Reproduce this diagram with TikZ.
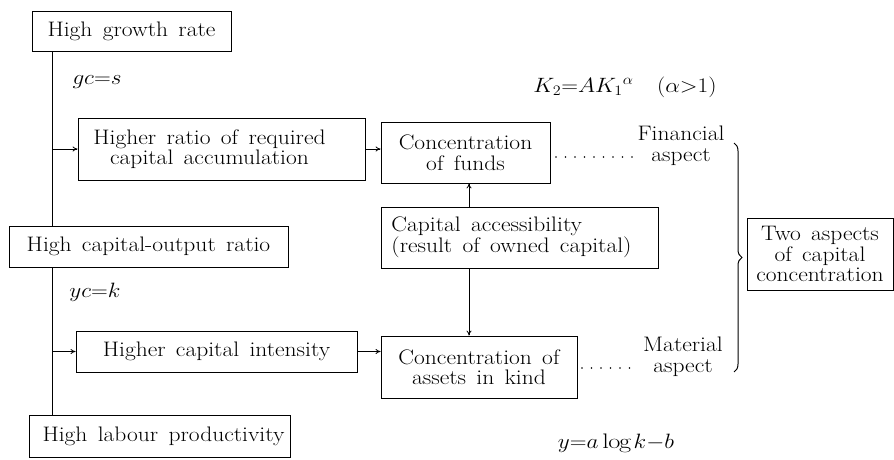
\documentclass[tikz,border=0pt]{standalone}
\usepackage{fontspec}
\usepackage{graphicx}
\setmainfont{Latin Modern Roman}[FakeStretch=1.12,WordSpace={1.45,1.2,1}]
\usetikzlibrary{arrows.meta,decorations.pathreplacing}
\newcommand{\wm}[1]{\scalebox{1.12}[1]{$#1$}}
\begin{document}
\begin{tikzpicture}[x=1pt,y=-1pt,
  every node/.style={font=\fontsize{21}{20.5}\selectfont},
  bx/.style={draw,line width=0.8pt,inner sep=0pt,align=center},
  arr/.style={-{To[length=5pt,width=5pt]},line width=0.8pt},
  ln/.style={line width=0.8pt},
  dots/.style={line width=1.6pt,line cap=round,dash pattern=on 0pt off 9.5pt}]
\useasboundingbox (0,0) rectangle (894,460);
\node[bx,minimum width=199,minimum height=40] (growth) at (131.5,31) {High growth rate};
\node[bx,minimum width=287,minimum height=62] (ratio) at (221.5,149) {Higher ratio of required\hspace*{24pt}\\capital accumulation\hspace*{24pt}};
\node[bx,minimum width=169,minimum height=61] (funds) at (465.5,152.5) {Concentration\\of funds};
\node[bx,minimum width=277,minimum height=61,align=left] (access) at (519.5,237.5) {Capital accessibility\\(result of owned capital)\hspace*{16pt}};
\node[bx,minimum width=279,minimum height=41] (capout) at (148.5,246.5) {High capital-output ratio};
\node[bx,minimum width=281,minimum height=41] (intens) at (216.5,351.5) {Higher capital intensity};
\node[bx,minimum width=196,minimum height=62] (assets) at (479,367) {Concentration of\\assets in kind};
\node[bx,minimum width=261,minimum height=42] (labour) at (159.5,436) {\hspace*{8pt}High labour productivity};
\node[bx,minimum width=146,minimum height=72] (two) at (820,254) {Two aspects\\of capital\\concentration};
\node[align=center] (fin) at (681,146) {Financial\\aspect};
\node[align=center] (mat) at (683,357) {Material\\aspect};
\node (gc) at (97,82) {\wm{gc{=}s}};
\node (yc) at (95,292) {\wm{yc{=}k}};
\node (kf) at (625,87) {\wm{K_2{=}AK_1{}^{\alpha}\quad(\alpha{>}1)}};
\node (yf) at (616,443) {\wm{y{=}a\log k{-}b}};
\coordinate (vx) at (52,0);
\coordinate (ax) at (469,0);
\draw[ln] (vx |- growth.south) -- (vx |- capout.north);
\draw[ln] (vx |- capout.south) -- (vx |- labour.north);
\draw[arr] (vx |- ratio.west) -- (ratio.west);
\draw[arr] (vx |- intens.west) -- (intens.west);
\draw[arr] (ratio.east) -- (ratio.east -| funds.west);
\draw[arr] (intens.east) -- (intens.east -| assets.west);
\draw[arr] (ax |- access.north) -- (ax |- funds.south);
\draw[arr] (ax |- access.south) -- (ax |- assets.north);
\coordinate (d1) at (556,157);
\coordinate (d2) at (634,157);
\coordinate (d3) at (582,368);
\coordinate (d4) at (635,368);
\draw[dots] (d1) -- (d2);
\draw[dots] (d3) -- (d4);
\coordinate (b1) at (734,143);
\coordinate (b2) at (734,372);
\draw[line width=1pt,decorate,decoration={brace,amplitude=8pt}] (b1) -- (b2);
\end{tikzpicture}
\end{document}
